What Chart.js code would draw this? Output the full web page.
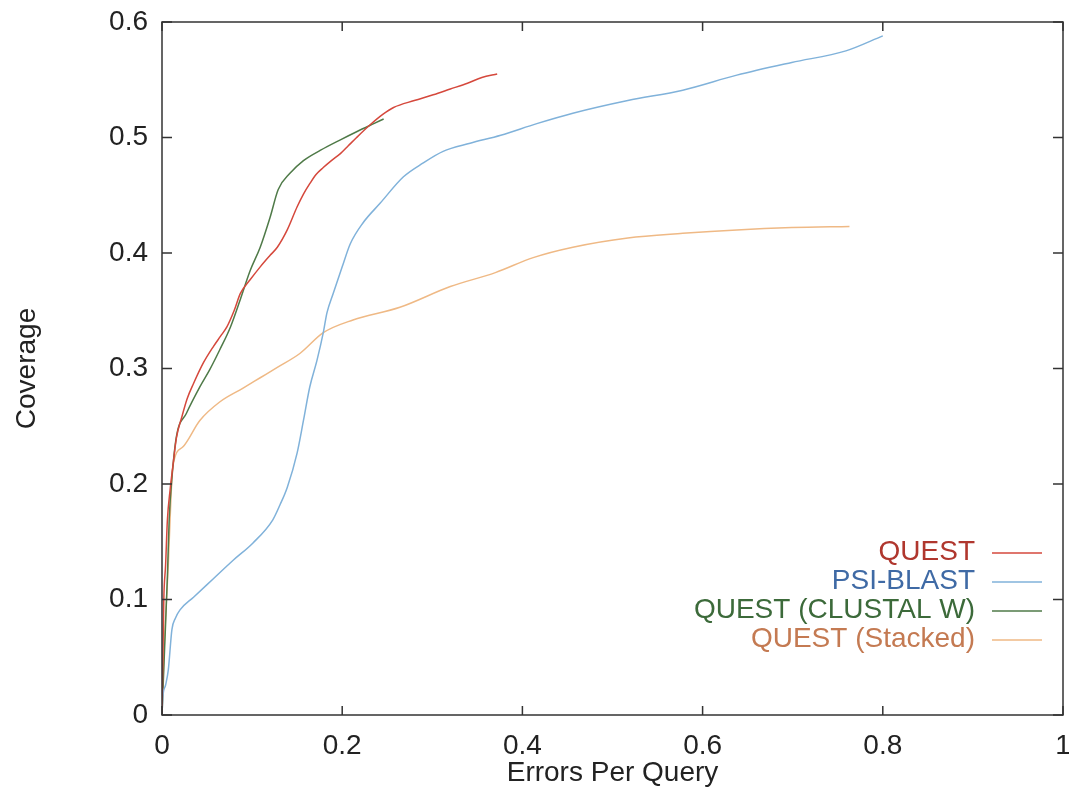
<!DOCTYPE html>
<html>
<head>
<meta charset="utf-8">
<script src="https://cdn.jsdelivr.net/npm/chart.js@4/dist/chart.umd.min.js"></script>
<style>
  html, body { margin: 0; padding: 0; background: #fff; }
  #wrap { width: 1069px; height: 787px; }
</style>
</head>
<body>
<div id="wrap"><canvas id="chart"></canvas></div>
<script>
// values: [errors per query, coverage]
const questPts = [[0,0],[0.001,0.05],[0.002,0.1],[0.004,0.13],[0.006,0.169],[0.009,0.195],[0.012,0.215],[0.016,0.24],[0.022,0.258],[0.028,0.274],
  [0.035,0.287],[0.046,0.305],[0.057,0.319],[0.065,0.328],[0.072,0.336],[0.08,0.35],[0.087,0.365],[0.098,0.377],[0.109,0.388],[0.12,0.398],
  [0.128,0.405],[0.139,0.42],[0.15,0.44],[0.157,0.451],[0.164,0.46],[0.171,0.468],[0.179,0.474],[0.188,0.48],[0.198,0.486],[0.207,0.493],
  [0.216,0.5],[0.231,0.511],[0.245,0.52],[0.257,0.526],[0.28,0.532],[0.301,0.537],[0.32,0.542],[0.339,0.547],[0.355,0.552],[0.372,0.555]];
const psiPts = [[0,0],[0.001,0.016],[0.004,0.026],[0.007,0.039],[0.011,0.074],[0.015,0.084],[0.02,0.091],[0.035,0.102],[0.057,0.118],[0.079,0.134],
  [0.101,0.149],[0.123,0.169],[0.131,0.182],[0.139,0.197],[0.15,0.227],[0.157,0.255],[0.164,0.284],[0.172,0.307],[0.179,0.331],[0.183,0.348],
  [0.19,0.365],[0.2,0.388],[0.209,0.408],[0.223,0.426],[0.242,0.443],[0.268,0.466],[0.29,0.478],[0.312,0.488],[0.342,0.495],[0.376,0.502],
  [0.416,0.512],[0.456,0.521],[0.517,0.532],[0.578,0.541],[0.638,0.554],[0.699,0.565],[0.759,0.575],[0.8,0.588]];
const clustalPts = [[0,0],[0.003,0.06],[0.006,0.12],[0.008,0.17],[0.011,0.205],[0.016,0.241],[0.027,0.261],[0.042,0.284],[0.053,0.299],[0.064,0.316],
  [0.076,0.336],[0.087,0.36],[0.098,0.385],[0.109,0.405],[0.12,0.431],[0.129,0.455],[0.142,0.469],[0.157,0.48],[0.176,0.489],[0.198,0.498],
  [0.216,0.505],[0.235,0.512],[0.246,0.516]];
const stackedPts = [[0,0],[0.002,0.05],[0.005,0.1],[0.007,0.13],[0.009,0.17],[0.012,0.215],[0.023,0.232],[0.042,0.255],[0.064,0.271],[0.09,0.283],
  [0.109,0.292],[0.128,0.301],[0.153,0.313],[0.179,0.331],[0.212,0.342],[0.264,0.353],[0.32,0.371],[0.37,0.383],[0.412,0.396],[0.456,0.405],
  [0.517,0.413],[0.578,0.417],[0.638,0.42],[0.699,0.422],[0.763,0.423]];

const seriesNames = ['QUEST', 'PSI-BLAST', 'QUEST (CLUSTAL W)', 'QUEST (Stacked)'];
const seriesPts = [questPts, psiPts, clustalPts, stackedPts];
const lineColors = ['#d5483c', '#80b2da', '#4f7a48', '#efb985'];
const textColors = ['#b0372e', '#3f6aa5', '#3c6a3a', '#c47a52'];

const xTicks = [0, 0.2, 0.4, 0.6, 0.8, 1];
const yTicks = [0, 0.1, 0.2, 0.3, 0.4, 0.5, 0.6];

const FONT = 'Liberation Sans, Arial, Helvetica, sans-serif';
const FS = 28;

const frame = {
  id: 'frame',
  afterDraw(chart) {
    const { ctx, chartArea: a, scales } = chart;
    ctx.save();
    ctx.strokeStyle = '#333';
    ctx.lineWidth = 1.5;
    ctx.strokeRect(a.left, a.top, a.right - a.left, a.bottom - a.top);
    ctx.beginPath();
    xTicks.forEach(v => {
      const px = scales.x.getPixelForValue(v);
      ctx.moveTo(px, a.bottom); ctx.lineTo(px, a.bottom - 9);
      ctx.moveTo(px, a.top); ctx.lineTo(px, a.top + 9);
    });
    yTicks.forEach(v => {
      const py = scales.y.getPixelForValue(v);
      ctx.moveTo(a.left, py); ctx.lineTo(a.left + 10, py);
      ctx.moveTo(a.right, py); ctx.lineTo(a.right - 10, py);
    });
    ctx.stroke();

    // key, bottom right inside the plot
    ctx.font = FS + 'px ' + FONT;
    ctx.textAlign = 'right';
    ctx.textBaseline = 'middle';
    chart.data.datasets.forEach((ds, i) => {
      const yy = a.bottom - 163 + i * 29;
      ctx.fillStyle = textColors[i];
      ctx.fillText(ds.label, a.right - 88, yy);
      ctx.strokeStyle = ds.borderColor;
      ctx.lineWidth = 1.5;
      ctx.beginPath();
      ctx.moveTo(a.right - 71, yy + 1);
      ctx.lineTo(a.right - 21, yy + 1);
      ctx.stroke();
    });
    ctx.restore();
  }
};

new Chart(document.getElementById('chart'), {
  type: 'scatter',
  data: {
    datasets: seriesNames.map((name, i) => ({
      label: name,
      data: seriesPts[i].map(p => ({ x: p[0], y: p[1] })),
      showLine: true,
      borderColor: lineColors[i],
      backgroundColor: lineColors[i],
      borderWidth: 1.5,
      pointRadius: 0,
      cubicInterpolationMode: 'monotone'
    }))
  },
  options: {
    responsive: true,
    maintainAspectRatio: false,
    animation: false,
    layout: { padding: { top: 22, right: 6, bottom: 0, left: 0 } },
    plugins: { legend: { display: false }, tooltip: { enabled: false } },
    scales: {
      x: {
        type: 'linear', min: 0, max: 1,
        grid: { display: false }, border: { display: false },
        afterBuildTicks: s => { s.ticks = xTicks.map(v => ({ value: v })); },
        afterFit: s => { s.height = 72; s.paddingLeft = 0; s.paddingRight = 0; },
        ticks: { color: '#222', padding: 6, font: { family: FONT, size: FS }, maxRotation: 0,
          callback: v => String(v) },
        title: { display: true, text: 'Errors Per Query', color: '#222', padding: { top: 0, bottom: 0 },
          font: { family: FONT, size: FS, lineHeight: 1 } }
      },
      y: {
        type: 'linear', min: 0, max: 0.6,
        grid: { display: false }, border: { display: false },
        afterBuildTicks: s => { s.ticks = yTicks.map(v => ({ value: v })); },
        afterFit: s => { s.width = 162; s.paddingTop = 0; s.paddingBottom = 0; },
        ticks: { color: '#222', padding: 6, font: { family: FONT, size: FS },
          callback: v => String(v) },
        title: { display: true, text: 'Coverage', color: '#222', padding: { top: 13, bottom: 0 },
          font: { family: FONT, size: FS, lineHeight: 1 } }
      }
    }
  },
  plugins: [frame]
});
</script>
</body>
</html>
